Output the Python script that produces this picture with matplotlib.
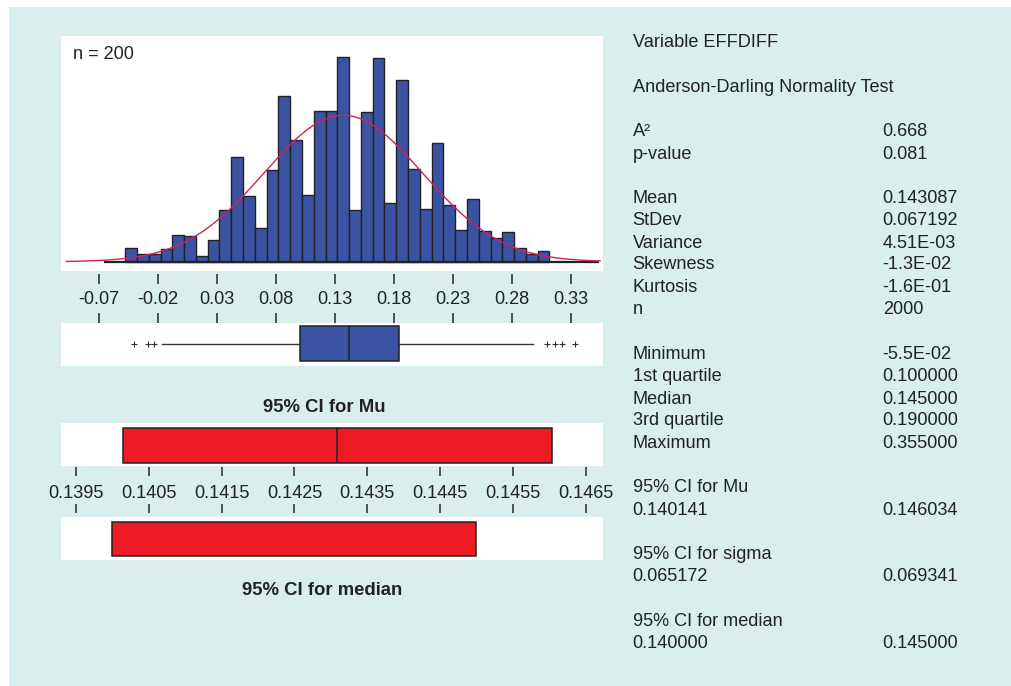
import numpy as np
import matplotlib
matplotlib.use("Agg")
from matplotlib import pyplot as plt
from matplotlib import transforms
from matplotlib.patches import Rectangle

plt.rcParams['font.family'] = ['Liberation Sans', 'DejaVu Sans']

# データ
bin_start = -0.048
bin_width = 0.01
counts = [11, 6, 6, 10, 22, 21, 5, 18, 42, 85, 53, 27, 74, 134, 99, 54, 122, 122,
          166, 42, 121, 165, 48, 147, 75, 43, 96, 46, 26, 51, 25, 19, 24, 11, 6, 9]
n_obs = 2000
fit_mean = 0.137     # where the fitted curve peaks in the picture
fit_sd = 0.0672
axis_line = (-0.066, 0.354)
hist_ticks = [-0.07, -0.02, 0.03, 0.08, 0.13, 0.18, 0.23, 0.28, 0.33]

box_q1, box_med, box_q3 = 0.1005, 0.142, 0.184
whisker_lo, whisker_hi = -0.0167, 0.298
outliers = [-0.0408, -0.029, -0.0233, 0.310, 0.3167, 0.323, 0.3338]

mean_val = 0.143087
ci_mu = (0.140141, 0.146034)
ci_median = (0.140000, 0.145000)
ci_ticks = [0.1395, 0.1405, 0.1415, 0.1425, 0.1435, 0.1445, 0.1455, 0.1465]

stat_labels = ["Variable EFFDIFF", "Anderson-Darling Normality Test",
               "A²", "p-value",
               "Mean", "StDev", "Variance", "Skewness", "Kurtosis", "n",
               "Minimum", "1st quartile", "Median", "3rd quartile", "Maximum",
               "95% CI for Mu", "0.140141",
               "95% CI for sigma", "0.065172",
               "95% CI for median", "0.140000"]
stat_values = ["", "",
               "0.668", "0.081",
               "0.143087", "0.067192", "4.51E-03", "-1.3E-02", "-1.6E-01", "2000",
               "-5.5E-02", "0.100000", "0.145000", "0.190000", "0.355000",
               "", "0.146034",
               "", "0.069341",
               "", "0.145000"]

# layout (pixels, top-left origin)
W, H = 1011, 686
row_y = [40.7, 85.7, 130, 152.3, 196.7, 218.7, 241, 263, 285.7, 307.7,
         352.7, 374.7, 397, 419, 441.7, 486, 508.3, 552.7, 574.7, 619.3, 641.7]
BG = '#d9eeed'
BLUE = '#3a53a3'
RED = '#ed1c24'
EDGE = '#222222'
TXT = '#222222'
FS = 13.1
HALF_CAP = 6.5   # px, half the cap height at FS

fig = plt.figure(figsize=(W / 100, H / 100), dpi=100)
fig.patches.append(Rectangle((9 / W, 0), 1 - 9 / W, 1 - 7 / H, transform=fig.transFigure,
                             facecolor=BG, edgecolor='none', zorder=-10))


def px_axes(x0, y0, x1, y1, **kw):
    return fig.add_axes([x0 / W, 1 - y1 / H, (x1 - x0) / W, (y1 - y0) / H], **kw)


def fy(y):
    return 1 - y / H


def clean(ax, white=True):
    ax.set_facecolor('white' if white else 'none')
    for s in ax.spines.values():
        s.set_visible(False)
    ax.set_yticks([])
    ax.set_xticks([])


hist_xlim = (-0.1025, 0.3577)
ci_xlim = (0.139294, 0.146742)

# ヒストグラム
ax = px_axes(61, 36, 603.3, 271)
clean(ax)
lefts = bin_start + bin_width * np.arange(len(counts))
ax.bar(lefts, counts, width=bin_width, align='edge', color=BLUE, edgecolor=EDGE, linewidth=1.0)
ax.hlines(0, axis_line[0], axis_line[1], color=EDGE, linewidth=1.6, zorder=3)
xs = np.linspace(-0.098, 0.355, 400)
curve = n_obs * bin_width * np.exp(-0.5 * ((xs - fit_mean) / fit_sd) ** 2) / (fit_sd * np.sqrt(2 * np.pi))
ax.plot(xs, curve, color='#d6215a', linewidth=1.0, zorder=4)
ax.set_xlim(hist_xlim)
ax.set_ylim(-7.5, 183)
fig.text(73.3 / W, fy(52.7 + HALF_CAP), "n = 200", fontsize=FS, color=TXT, va='baseline')


def tick_strip(y0, y1, xlim, ticks, fmt, label_y, length):
    st = px_axes(61, y0, 603.3, y1)
    clean(st, white=False)
    st.set_xlim(xlim)
    st.set_xticks(ticks)
    st.tick_params(axis='x', direction='in', top=True, bottom=True, length=length, width=1.3,
                   color='#444444', labelbottom=False)
    tr = transforms.blended_transform_factory(st.transData, fig.transFigure)
    for t in ticks:
        st.text(t, fy(label_y + HALF_CAP), fmt.format(t), transform=tr, ha='center', va='baseline',
                fontsize=FS, color=TXT)
    return st


tick_strip(273.7, 323, hist_xlim, hist_ticks, "{:.2f}", 298, 7)

# 箱ひげ図
axb = px_axes(61, 322.7, 603.3, 365.7)
clean(axb)
axb.bxp([dict(med=box_med, q1=box_q1, q3=box_q3, whislo=whisker_lo, whishi=whisker_hi,
              fliers=outliers)],
        positions=[0.515], widths=0.82, orientation='horizontal', patch_artist=True, showcaps=False,
        boxprops=dict(facecolor=BLUE, edgecolor=EDGE, linewidth=1.1),
        medianprops=dict(color=EDGE, linewidth=1.1),
        whiskerprops=dict(color='#333333', linewidth=1.0),
        flierprops=dict(marker='+', markeredgecolor='#333333', markersize=5, markeredgewidth=0.8))
axb.set_xlim(hist_xlim)
axb.set_ylim(0, 1)
axb.set_yticks([])
axb.set_xticks([])

fig.text(324 / W, fy(412.5), "95% CI for Mu", fontsize=13.3, fontweight='bold', color=TXT,
         ha='center', va='baseline')

# 平均の信頼区間
axm = px_axes(61, 423.3, 603.3, 466)
clean(axm)
axm.barh(0.48, ci_mu[1] - ci_mu[0], left=ci_mu[0], height=0.806, color=RED, edgecolor=EDGE, linewidth=1.1)
axm.vlines(mean_val, 0.077, 0.883, color=EDGE, linewidth=1.1)
axm.set_xlim(ci_xlim)
axm.set_ylim(0, 1)

tick_strip(466.7, 513.3, ci_xlim, ci_ticks, "{:.4f}", 491.7, 6.3)

# 中央値の信頼区間
axd = px_axes(61, 517.3, 603.3, 560)
clean(axd)
axd.barh(0.488, ci_median[1] - ci_median[0], left=ci_median[0], height=0.789, color=RED,
         edgecolor=EDGE, linewidth=1.1)
axd.set_xlim(ci_xlim)
axd.set_ylim(0, 1)

fig.text(322 / W, fy(595), "95% CI for median", fontsize=13.3, fontweight='bold', color=TXT,
         ha='center', va='baseline')

# 統計量
for lab, val, y in zip(stat_labels, stat_values, row_y):
    fig.text(632.7 / W, fy(y + HALF_CAP), lab, fontsize=FS, color=TXT, va='baseline')
    if val:
        fig.text(882.7 / W, fy(y + HALF_CAP), val, fontsize=FS, color=TXT, va='baseline')

fig.savefig("out.png", dpi=100)
